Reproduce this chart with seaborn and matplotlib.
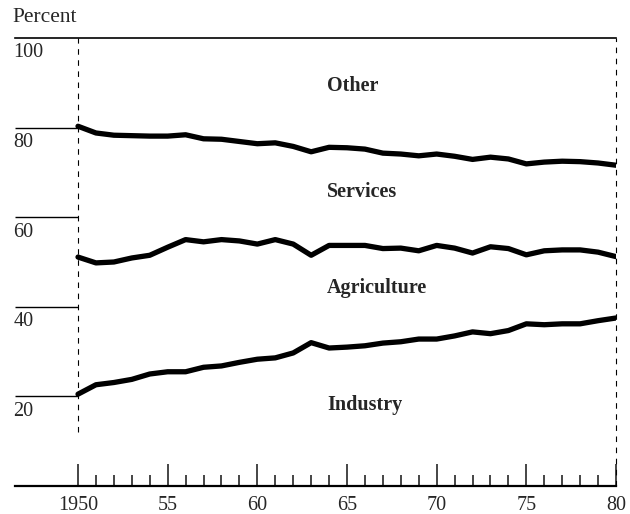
import matplotlib
matplotlib.use("Agg")
import matplotlib.pyplot as plt
import seaborn as sns
import pandas as pd

years = list(range(1950, 1981))

# upper edge of each band (cumulative percent)
industry_top = [20.5, 22.6, 23.1, 23.8, 25.0, 25.5, 25.5, 26.5, 26.8, 27.6,
                28.3, 28.6, 29.7, 32.0, 30.8, 31.0, 31.3, 31.9, 32.2, 32.8,
                32.8, 33.5, 34.4, 34.0, 34.7, 36.2, 36.0, 36.2, 36.2, 36.9,
                37.5]
agriculture_top = [51.1, 49.8, 50.0, 50.9, 51.5, 53.3, 55.0, 54.5, 55.0, 54.7,
                   54.0, 55.0, 54.0, 51.5, 53.7, 53.7, 53.7, 53.0, 53.1, 52.5,
                   53.7, 53.1, 52.0, 53.4, 53.0, 51.6, 52.5, 52.7, 52.7, 52.2,
                   51.2]
services_top = [80.3, 78.8, 78.3, 78.2, 78.1, 78.1, 78.4, 77.5, 77.4, 76.9,
                76.4, 76.6, 75.8, 74.6, 75.6, 75.5, 75.2, 74.3, 74.1, 73.7,
                74.1, 73.6, 72.9, 73.4, 73.0, 71.9, 72.3, 72.5, 72.4, 72.1,
                71.6]

band_labels = ["Other", "Services", "Agriculture", "Industry"]
band_label_y = [89.2, 65.7, 44.2, 18.1]
y_ticks = [20, 40, 60, 80, 100]
x_major = [1950, 1955, 1960, 1965, 1970, 1975, 1980]
x_major_labels = ["1950", "55", "60", "65", "70", "75", "80"]

df = pd.DataFrame({
    "year": years * 3,
    "pct": industry_top + agriculture_top + services_top,
    "edge": ["industry"] * 31 + ["agriculture"] * 31 + ["services"] * 31,
})

sns.set_style("white")
plt.rcParams["font.family"] = ["Liberation Serif", "DejaVu Serif"]

fig = plt.figure(figsize=(6.3, 5.14), dpi=100)
x0 = 1950 - 63 / 17.93
ax = fig.add_axes([15 / 630, 28 / 514, 601 / 630, 448 / 514])

for name, grp in df.groupby("edge"):
    sns.lineplot(data=grp, x="year", y="pct", color="black", linewidth=3.8,
                 ax=ax, solid_capstyle="round", solid_joinstyle="round",
                 legend=False)

ax.set_xlim(x0, 1980)
ax.set_ylim(0, 100)

# left "ticks" as horizontal rules with labels underneath
for v in y_ticks[:-1]:
    ax.hlines(v, x0, 1950, color="black", linewidth=1.0)
for v in y_ticks:
    ax.text(x0 - 0.1, v - 1.2, str(v), ha="left", va="top", fontsize=14.5)

# dashed verticals at the ends of the period
ax.vlines(1950, 12, 100, color="black", linewidth=0.8, linestyles=(0, (5, 5)))
ax.vlines(1980, 0, 100, color="black", linewidth=0.8, linestyles=(0, (5, 5)),
          clip_on=False)

for lab, yv in zip(band_labels, band_label_y):
    ax.text(1963.9, yv, lab, ha="left", va="center", fontsize=14.5,
            fontweight="bold")

ax.set_xticks(x_major)
ax.set_xticklabels(x_major_labels, fontsize=14.5)
ax.set_xticks(years, minor=True)
ax.tick_params(axis="x", which="major", direction="in", length=16, width=1.2,
               pad=7, bottom=True)
ax.tick_params(axis="x", which="minor", direction="in", length=8, width=1.2,
               bottom=True)
ax.set_yticks([])
ax.set_xlabel("")
ax.set_ylabel("")

for side in ["left", "right"]:
    ax.spines[side].set_visible(False)
ax.spines["bottom"].set_linewidth(1.6)
ax.spines["top"].set_linewidth(1.2)
ax.spines["bottom"].set_color("black")
ax.spines["top"].set_color("black")

fig.text(12 / 630, 1 - 17 / 514, "Percent", ha="left", va="center", fontsize=15.5)

fig.savefig("out.png", dpi=100)
